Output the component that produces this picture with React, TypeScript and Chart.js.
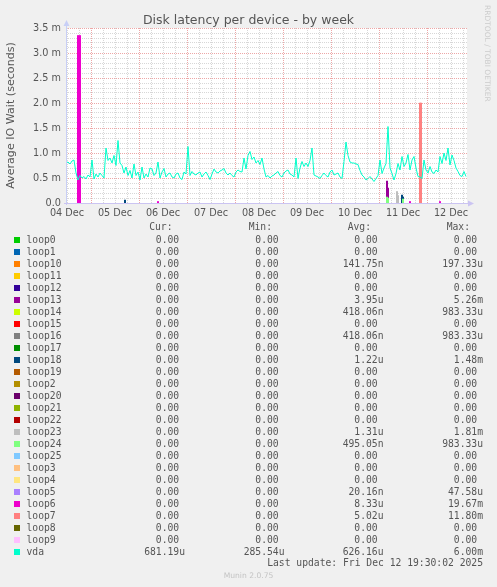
import { useEffect, useRef } from "react"
import { Chart, registerables } from "chart.js"

Chart.register(...registerables)

// vda latency in ms, one sample per hour from 04 Dec 11:30
const vdaMs = [
  0.8, 0.82, 0.78, 0.84, 0.86, 0.6, 0.46, 0.55, 0.5, 0.53,
  0.48, 0.56, 0.52, 0.86, 0.48, 0.58, 0.52, 0.6, 0.55, 0.5,
  1.1, 0.85, 0.9, 0.8, 0.95, 0.75, 1.25, 0.8, 0.75, 0.6,
  0.72, 0.55, 0.65, 0.5, 0.78, 0.55, 0.62, 0.46, 0.72, 0.5,
  0.58, 0.52, 0.7, 0.68, 0.55, 0.6, 0.82, 0.5, 0.62, 0.69,
  0.52, 0.58, 0.6, 0.52, 0.5, 0.58, 0.6, 0.5, 0.47, 0.62,
  0.58, 1.13, 0.55, 0.63, 0.58, 0.56, 0.6, 0.62, 0.52, 0.58,
  0.62, 0.55, 0.47, 0.58, 0.68, 0.62, 0.6, 0.64, 0.66, 0.69,
  0.6, 0.56, 0.6, 0.55, 0.52, 0.62, 0.66, 0.63, 0.62, 0.9,
  0.68, 0.95, 1.03, 0.87, 0.92, 0.8, 0.85, 0.77, 0.9, 0.68,
  0.52, 0.55, 0.5, 0.54, 0.56, 0.6, 0.63, 0.55, 0.52, 0.6,
  0.64, 0.66, 0.58, 0.56, 0.52, 0.9, 0.49, 0.7, 0.83, 0.73,
  0.8, 0.73, 0.85, 1.1, 0.56, 0.54, 0.52, 0.49, 0.55, 0.6,
  0.55, 0.52, 0.62, 0.66, 0.56, 0.58, 0.6, 0.52, 0.49, 0.83,
  1.22, 0.95, 0.82, 0.8, 0.8, 0.78, 0.77, 0.65, 0.56, 0.52,
  0.46, 0.49, 0.53, 0.48, 0.43, 0.49, 0.55, 0.86, 0.59, 0.7,
  0.79, 1.53, 0.7, 0.59, 0.46, 0.59, 0.79, 0.66, 0.93, 0.73,
  0.8, 0.97, 0.66, 0.86, 0.93, 0.7, 0.53, 0.52, 0.49, 0.86,
  0.66, 0.6, 0.73, 0.62, 0.59, 0.66, 0.62, 0.93, 0.79, 1.0,
  0.85, 1.1, 0.76, 0.96, 0.85, 0.7, 0.63, 0.55, 0.53, 0.63, 0.53,
]

// short bursts on loop devices: [start hour, half-hourly values in ms]
type Burst = [number, number[]]
const loop6Bursts: Burst[] = [[6, [3.35, 3.35, 3.35]], [46, [0.03]], [172, [0.03]], [187, [0.03]]]
const loop7Bursts: Burst[] = [[177, [2.0, 2.0]]]
const loop13Bursts: Burst[] = [[160.5, [0.44, 0.3]]]
const loop14Bursts: Burst[] = [[160.5, [0.08]]]
const loop16Bursts: Burst[] = [[165.5, [0.1]]]
const loop18Bursts: Burst[] = [[29.5, [0.06]], [168, [0.16, 0.12]]]
const loop23Bursts: Burst[] = [[165.5, [0.23, 0.15]]]
const loop24Bursts: Burst[] = [[160.5, [0.12, 0.1]], [168.5, [0.08]]]

const bursts: Record<string, Burst[]> = {
  loop6: loop6Bursts,
  loop7: loop7Bursts,
  loop13: loop13Bursts,
  loop14: loop14Bursts,
  loop16: loop16Bursts,
  loop18: loop18Bursts,
  loop23: loop23Bursts,
  loop24: loop24Bursts,
}

const dayLabels = ["04 Dec", "05 Dec", "06 Dec", "07 Dec", "08 Dec", "09 Dec", "10 Dec", "11 Dec", "12 Dec"]
const yTickLabels = ["0.0", "0.5 m", "1.0 m", "1.5 m", "2.0 m", "2.5 m", "3.0 m", "3.5 m"]

const devices = [
  "loop0", "loop1", "loop10", "loop11", "loop12", "loop13", "loop14", "loop15", "loop16",
  "loop17", "loop18", "loop19", "loop2", "loop20", "loop21", "loop22", "loop23", "loop24",
  "loop25", "loop3", "loop4", "loop5", "loop6", "loop7", "loop8", "loop9", "vda",
]
const colors = [
  "#00cc00", "#0066b3", "#ff8000", "#ffcc00", "#330099", "#990099", "#ccff00", "#ff0000", "#808080",
  "#008f00", "#00487d", "#b35a00", "#b38f00", "#6b006b", "#8fb300", "#b30000", "#bebebe", "#80ff80",
  "#80c9ff", "#ffc080", "#ffe680", "#aa80ff", "#ee00cc", "#ff8080", "#666600", "#ffbfff", "#00ffcc",
]
const curValues = [
  "0.00", "0.00", "0.00", "0.00", "0.00", "0.00", "0.00", "0.00", "0.00",
  "0.00", "0.00", "0.00", "0.00", "0.00", "0.00", "0.00", "0.00", "0.00",
  "0.00", "0.00", "0.00", "0.00", "0.00", "0.00", "0.00", "0.00", "681.19u",
]
const minValues = [
  "0.00", "0.00", "0.00", "0.00", "0.00", "0.00", "0.00", "0.00", "0.00",
  "0.00", "0.00", "0.00", "0.00", "0.00", "0.00", "0.00", "0.00", "0.00",
  "0.00", "0.00", "0.00", "0.00", "0.00", "0.00", "0.00", "0.00", "285.54u",
]
const avgValues = [
  "0.00", "0.00", "141.75n", "0.00", "0.00", "3.95u", "418.06n", "0.00", "418.06n",
  "0.00", "1.22u", "0.00", "0.00", "0.00", "0.00", "0.00", "1.31u", "495.05n",
  "0.00", "0.00", "0.00", "20.16n", "8.33u", "5.02u", "0.00", "0.00", "626.16u",
]
const maxValues = [
  "0.00", "0.00", "197.33u", "0.00", "0.00", "5.26m", "983.33u", "0.00", "983.33u",
  "0.00", "1.48m", "0.00", "0.00", "0.00", "0.00", "0.00", "1.81m", "983.33u",
  "0.00", "0.00", "0.00", "47.58u", "19.67m", "11.80m", "0.00", "0.00", "6.00m",
]
const lastUpdate = "Last update: Fri Dec 12 19:30:02 2025"

const TEXT = "#555"
const MONO = '9.7px "DejaVu Sans Mono"'
const SANS = '"DejaVu Sans"'
const COL_RIGHT = [185, 284.5, 383.5, 483]
const HEAD_RIGHT = [172.5, 272, 371, 470]
const HEADERS = ["Cur:", "Min:", "Avg:", "Max:"]

function burstPoints(list: Burst[]) {
  const pts: { x: number; y: number | null }[] = []
  for (const [start, vals] of list) {
    pts.push({ x: start - 0.5, y: 0 })
    vals.forEach((v, i) => pts.push({ x: start + i * 0.5, y: v }))
    const end = start + vals.length * 0.5
    pts.push({ x: end, y: 0 })
    pts.push({ x: end + 0.1, y: null })
  }
  return pts
}

const muninPlugin = {
  id: "munin",
  beforeDraw(chart: Chart) {
    const { ctx, chartArea: a } = chart
    ctx.save()
    ctx.fillStyle = "#f0f0f0"
    ctx.fillRect(0, 0, chart.width, chart.height)
    ctx.fillStyle = "#ffffff"
    ctx.fillRect(a.left, a.top, a.right - a.left, a.bottom - a.top)
    ctx.restore()
  },
  afterDatasetsDraw(chart: Chart) {
    const { ctx, chartArea: a } = chart
    ctx.save()
    // axes with arrows
    ctx.lineWidth = 1
    ctx.strokeStyle = "#c8cff6"
    ctx.fillStyle = "#c8cff6"
    ctx.beginPath()
    ctx.moveTo(a.left + 0.5, a.bottom + 2)
    ctx.lineTo(a.left + 0.5, a.top - 2)
    ctx.stroke()
    ctx.beginPath()
    ctx.moveTo(a.left + 0.5, a.top - 8)
    ctx.lineTo(a.left - 2.5, a.top - 2)
    ctx.lineTo(a.left + 3.5, a.top - 2)
    ctx.closePath()
    ctx.fill()
    ctx.strokeStyle = "#cbc4f2"
    ctx.fillStyle = "#cbc4f2"
    ctx.beginPath()
    ctx.moveTo(a.left - 2, a.bottom + 0.5)
    ctx.lineTo(a.right + 1, a.bottom + 0.5)
    ctx.stroke()
    ctx.beginPath()
    ctx.moveTo(a.right + 7, a.bottom + 0.5)
    ctx.lineTo(a.right + 1, a.bottom - 2.5)
    ctx.lineTo(a.right + 1, a.bottom + 3.5)
    ctx.closePath()
    ctx.fill()
    ctx.restore()
  },
  afterDraw(chart: Chart) {
    const { ctx, chartArea: a } = chart
    ctx.save()
    ctx.fillStyle = TEXT

    // title
    ctx.font = `12.5px ${SANS}`
    ctx.textAlign = "center"
    ctx.textBaseline = "alphabetic"
    ctx.fillText("Disk latency per device - by week", chart.width / 2, 24)

    // vertical axis title
    ctx.save()
    ctx.translate(11, (a.top + a.bottom) / 2)
    ctx.rotate(-Math.PI / 2)
    ctx.font = `11.1px ${SANS}`
    ctx.textBaseline = "middle"
    ctx.fillText("Average IO Wait (seconds)", 0, 0)
    ctx.restore()

    // rrdtool credit
    ctx.save()
    ctx.translate(487, 5)
    ctx.rotate(Math.PI / 2)
    ctx.font = `7.5px ${SANS}`
    ctx.fillStyle = "#cccccc"
    ctx.textAlign = "left"
    ctx.textBaseline = "middle"
    ctx.fillText("RRDTOOL / TOBI OETIKER", 0, 0)
    ctx.restore()

    // legend table
    ctx.font = MONO
    ctx.textBaseline = "middle"
    ctx.textAlign = "right"
    HEADERS.forEach((h, i) => ctx.fillText(h, HEAD_RIGHT[i], 227))
    const cols = [curValues, minValues, avgValues, maxValues]
    devices.forEach((name, r) => {
      const y = 240 + r * 12
      ctx.fillStyle = colors[r]
      ctx.fillRect(14, y - 3, 6, 6)
      ctx.fillStyle = TEXT
      ctx.textAlign = "left"
      ctx.fillText(name, 26.5, y)
      ctx.textAlign = "right"
      cols.forEach((col, c) => {
        const s = col[r]
        const padded = /\d$/.test(s) ? s + " " : s
        ctx.fillText(padded, COL_RIGHT[c], y)
      })
    })
    ctx.textAlign = "right"
    ctx.fillText(lastUpdate, 483, 563)

    // watermark
    ctx.font = `7.6px ${SANS}`
    ctx.fillStyle = "#c4c4c4"
    ctx.textAlign = "center"
    ctx.fillText("Munin 2.0.75", chart.width / 2, 576)
    ctx.restore()
  },
}

export default function App() {
  const chartRef = useRef<HTMLCanvasElement>(null)
  const chartInstance = useRef<Chart | null>(null)

  useEffect(() => {
    document.body.style.margin = "0"
    document.body.style.background = "#f0f0f0"
    if (!chartRef.current) return
    if (chartInstance.current) chartInstance.current.destroy()
    const ctx = chartRef.current.getContext("2d")
    if (!ctx) return

    const datasets: any[] = []
    devices.forEach((name, i) => {
      if (name === "vda") {
        datasets.push({
          label: name,
          data: vdaMs.map((v, h) => ({ x: h, y: v })),
          borderColor: colors[i],
          borderWidth: 1,
          pointRadius: 0,
          fill: false,
          tension: 0,
          order: 100 - i,
        })
      } else if (bursts[name]) {
        datasets.push({
          label: name,
          data: burstPoints(bursts[name]),
          borderColor: colors[i],
          backgroundColor: colors[i],
          borderWidth: 1,
          pointRadius: 0,
          stepped: "middle",
          fill: "origin",
          order: 100 - i,
        })
      }
    })

    const majorRed = "rgba(220, 80, 80, 0.5)"
    const minorGrey = "rgba(150, 150, 150, 0.38)"

    chartInstance.current = new Chart(ctx, {
      type: "line",
      data: { datasets },
      plugins: [muninPlugin],
      options: {
        animation: false,
        responsive: false,
        events: [],
        layout: { padding: { left: 0, top: 28, right: 30, bottom: 364 } },
        plugins: {
          legend: { display: false },
          tooltip: { enabled: false },
          title: { display: false },
        },
        scales: {
          x: {
            type: "linear",
            min: 0,
            max: 200.5,
            afterBuildTicks: (s: any) => {
              s.ticks = Array.from({ length: 34 }, (_, k) => ({ value: 0.5 + 6 * k }))
            },
            afterFit: (s: any) => {
              s.height = 20
            },
            ticks: {
              autoSkip: false,
              maxRotation: 0,
              padding: 5,
              color: TEXT,
              font: { family: "DejaVu Sans", size: 9.7 },
              callback: (v: any) => {
                const h = Number(v) - 0.5
                return h % 24 === 0 ? dayLabels[h / 24] : ""
              },
            },
            grid: {
              drawTicks: false,
              lineWidth: 1,
              color: (c: any) => ((c.tick.value - 12.5) % 24 === 0 ? majorRed : minorGrey),
            },
            border: { display: false, dash: [1, 1] },
          },
          y: {
            type: "linear",
            min: 0,
            max: 3.5,
            afterBuildTicks: (s: any) => {
              s.ticks = Array.from({ length: 36 }, (_, i) => ({ value: i / 10 }))
            },
            afterFit: (s: any) => {
              s.width = 66
            },
            ticks: {
              autoSkip: false,
              padding: 5,
              color: TEXT,
              font: { family: "DejaVu Sans", size: 9.7 },
              callback: (v: any) => {
                const i = Math.round(Number(v) * 10)
                return i % 5 === 0 ? yTickLabels[i / 5] : ""
              },
            },
            grid: {
              drawTicks: false,
              lineWidth: 1,
              color: (c: any) => (Math.round(c.tick.value * 10) % 5 === 0 ? majorRed : minorGrey),
            },
            border: { display: false, dash: [1, 1] },
          },
        },
      },
    })

    return () => {
      if (chartInstance.current) {
        chartInstance.current.destroy()
        chartInstance.current = null
      }
    }
  }, [])

  return (
    <div style={{ width: 497, height: 587 }}>
      <canvas ref={chartRef} width={497} height={587} />
    </div>
  )
}
